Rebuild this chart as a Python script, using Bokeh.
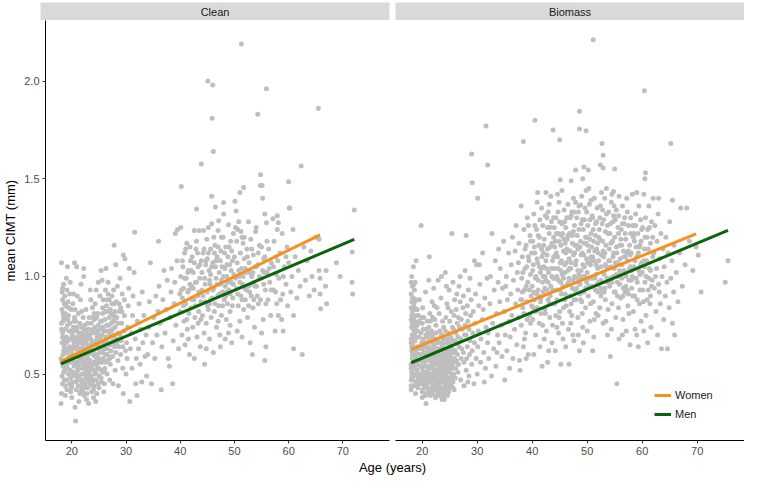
from bokeh.plotting import figure
from bokeh.models import Range1d, FixedTicker, PrintfTickFormatter
from bokeh.layouts import column, row
from bokeh.core.properties import value
from bokeh.embed import file_html
from bokeh.resources import INLINE

FONT = "Liberation Sans"
ORANGE = "#F5921F"
GREEN = "#0A640A"
POINT = "#BEBEBE"

panel_names = ["Clean", "Biomass"]
legend_labels = ["Women", "Men"]
x_ticks = [20, 30, 40, 50, 60, 70]
y_ticks = [0.5, 1.0, 1.5, 2.0]

# (age, mean CIMT)
clean_points = [
    (18.0,0.35),(18.1,1.07),(18.2,0.92),(18.3,0.88),(18.4,0.81),(18.1,0.76),(18.3,0.71),(18.2,0.66),(18.5,0.62),(18.0,0.58),
    (18.4,0.54),(18.2,0.49),(18.6,0.47),(18.8,0.44),(18.7,0.52),(18.9,0.57),(18.6,0.68),(18.8,0.73),(18.5,0.79),(18.9,0.85),
    (18.7,0.90),(18.5,0.96),(19.0,0.99),(19.2,1.05),(19.1,0.93),(19.3,0.87),(19.4,0.80),(19.2,0.75),(19.0,0.69),(19.3,0.63),
    (19.5,0.59),(19.1,0.55),(19.4,0.50),(19.6,0.45),(19.8,0.41),(19.7,0.48),(19.9,0.56),(19.6,0.64),(19.8,0.72),(19.9,0.83),
    (20.0,0.38),(20.1,0.46),(20.3,0.51),(20.2,0.57),(20.0,0.61),(20.4,0.66),(20.1,0.70),(20.3,0.74),(20.5,0.79),(20.2,0.86),
    (20.5,1.07),(20.7,0.26),(20.6,0.33),(20.8,0.42),(20.7,0.49),(20.9,0.54),(20.6,0.59),(20.8,0.63),(20.9,0.69),(20.7,0.77),
    (20.9,1.05),(21.0,0.90),(21.2,0.44),(21.1,0.52),(21.3,0.58),(21.0,0.64),(21.4,0.71),(21.2,0.81),(21.5,0.40),(21.6,0.47),
    (21.4,0.55),(21.7,0.61),(21.5,0.67),(21.8,0.74),(21.6,0.88),(21.9,0.50),(21.8,0.43),(21.9,0.57),(21.7,0.96),(21.3,0.36),
    (21.1,0.62),(21.9,0.66),
    (22.0,0.41),(22.1,0.47),(22.2,0.53),(22.0,0.58),(22.3,0.63),(22.1,0.69),(22.2,1.04),(22.2,1.00),(22.4,0.75),(22.3,0.39),
    (22.5,0.45),(22.6,0.51),(22.4,0.56),(22.7,0.60),(22.5,0.66),(22.8,0.72),(22.6,0.83),(22.9,0.43),(22.8,0.49),(23.0,0.54),
    (22.9,0.58),(23.1,0.62),(23.0,0.68),(23.2,0.79),(23.1,0.35),(23.3,0.47),(23.4,0.52),(23.2,0.57),(23.5,0.64),(23.3,0.70),
    (23.6,0.76),(23.5,0.88),(23.7,0.41),(23.8,0.46),(23.6,0.55),(23.9,0.60),(23.7,0.66),(23.9,0.73),(23.8,0.84),(23.4,0.93),
    (22.7,0.37),(23.0,0.50),(22.4,0.61),(23.6,0.48),(22.9,0.65),
    (24.0,0.38),(24.1,0.44),(24.2,0.50),(24.0,0.55),(24.3,0.59),(24.1,0.65),(24.4,0.71),(24.2,0.78),(24.3,0.86),(24.5,0.93),
    (24.6,0.40),(24.5,0.47),(24.7,0.53),(24.6,0.58),(24.8,0.63),(24.7,0.69),(24.9,0.75),(24.8,0.81),(25.0,0.43),(25.1,0.49),
    (25.0,0.56),(25.2,0.61),(25.1,0.67),(25.3,0.73),(25.2,0.90),(25.4,0.52),(25.5,0.46),(25.3,0.64),(25.6,0.70),(25.5,0.77),
    (25.7,0.84),(25.6,0.98),(25.8,0.58),(25.9,0.41),(25.7,0.62),(25.9,0.72),(25.8,0.88),(24.4,0.36),(25.4,1.03),(24.9,0.97),
    (26.0,0.45),(26.1,0.53),(26.2,0.60),(26.0,0.66),(26.3,0.72),(26.1,0.78),(26.4,0.85),(26.2,0.93),(26.3,1.04),(26.5,0.50),
    (26.6,0.57),(26.5,0.63),(26.7,0.69),(26.8,0.75),(26.6,0.82),(26.9,0.88),(26.7,0.97),(27.0,0.47),(27.1,0.55),(27.2,0.62),
    (27.0,0.70),(27.3,0.76),(27.1,0.83),(27.4,0.90),(27.5,0.59),(27.6,0.67),(27.5,0.73),(27.7,0.80),(27.8,1.16),(27.9,0.64),
    (27.8,0.86),(27.6,0.45),
    (28.0,0.52),(28.1,0.61),(28.2,0.68),(28.0,0.74),(28.3,0.79),(28.2,0.87),(28.4,0.95),(28.1,1.06),(28.5,0.57),(28.6,0.44),
    (28.7,0.64),(28.5,0.71),(28.8,0.82),(28.9,0.99),(29.0,0.60),(29.1,0.67),(29.2,0.76),(29.0,0.84),(29.3,0.91),(29.4,0.53),
    (29.5,0.40),(29.6,0.72),(29.7,0.80),(29.8,1.09),(29.9,0.62),(29.5,1.11),
    (30.0,0.50),(30.2,0.58),(30.1,0.66),(30.3,0.74),(30.4,0.85),(30.6,1.04),(30.5,0.94),(30.7,0.36),(30.8,0.63),(31.0,0.71),
    (31.1,0.53),(31.2,0.80),(31.3,0.90),(31.5,1.02),(31.6,1.226),(31.7,0.68),(31.8,0.45),(31.9,0.58),
    (32.0,0.39),(32.1,0.77),(32.3,0.63),(32.4,0.86),(32.6,0.55),(32.7,0.73),(32.9,0.46),(33.0,0.92),(33.1,0.66),(33.3,0.80),
    (33.5,0.59),(33.7,0.70),(33.8,0.49),
    (34.0,0.60),(34.2,0.74),(34.3,0.87),(34.5,1.07),(34.7,0.45),(34.9,0.66),(35.1,0.79),(35.3,0.58),(35.5,0.90),(35.7,0.70),
    (35.9,0.82),
    (36.0,1.18),(36.1,0.95),(36.3,0.76),(36.5,0.42),(36.6,0.64),(36.8,0.88),(37.0,1.03),(37.2,0.71),(37.4,0.83),(37.6,0.98),
    (37.8,0.58),
    (38.0,0.54),(38.1,0.79),(38.3,0.92),(38.4,1.04),(38.6,0.45),(38.7,0.67),(38.9,0.86),(39.0,0.97),(39.1,1.22),(39.2,0.75),
    (39.4,1.08),(39.5,1.24),(39.7,0.63),(39.9,0.91),
    (40.0,0.82),(40.1,1.00),(40.1,1.25),(40.2,1.46),(40.3,0.70),(40.4,0.89),(40.5,1.05),(40.6,0.94),(40.7,0.77),(40.8,1.12),
    (40.9,0.65),(41.0,0.86),(41.1,0.99),(41.2,1.17),(41.3,0.73),(41.4,0.92),(41.5,1.03),(41.6,0.81),(41.7,0.60),(41.8,0.96),
    (41.9,1.08),(41.5,0.68),
    (42.0,0.84),(42.1,0.95),(42.2,1.10),(42.3,0.74),(42.4,1.02),(42.5,0.88),(42.6,1.235),(42.7,0.79),(42.8,0.97),(42.9,1.14),
    (43.0,1.345),(43.1,0.69),(43.2,0.90),(43.3,1.05),(43.4,0.82),(43.5,1.235),(43.6,0.99),(43.7,0.64),(43.8,0.87),(43.9,1.575),
    (43.9,1.08),(43.3,0.76),(42.6,0.58),(43.0,1.18),
    (44.0,0.93),(44.1,0.80),(44.2,1.12),(44.3,1.235),(44.4,0.71),(44.5,0.99),(44.5,0.55),(44.6,0.87),(44.7,1.06),(44.8,0.76),
    (44.9,1.19),(45.0,0.92),(45.1,2.00),(45.2,1.25),(45.2,0.83),(45.3,1.03),(45.4,0.68),(45.5,0.96),(45.6,1.14),(45.7,0.79),
    (45.8,1.41),(45.8,1.27),(45.9,1.81),(45.9,0.89),(45.6,1.01),(45.0,1.09),(44.8,0.63),(45.4,0.86),
    (46.0,1.98),(46.0,1.07),(46.1,1.64),(46.1,0.61),(46.2,0.94),(46.3,0.82),(46.4,1.16),(46.5,1.355),(46.6,0.99),(46.7,0.74),
    (46.8,1.10),(46.9,0.90),(47.0,1.235),(47.1,1.285),(47.1,0.85),(47.2,1.02),(47.3,0.70),(47.4,0.96),(47.5,1.13),(47.6,0.80),
    (47.7,1.05),(47.8,0.92),(47.9,1.20),(47.4,0.64),(46.5,1.05),(47.0,0.77),(46.3,1.12),(47.6,0.98),
    (48.0,1.378),(48.0,1.32),(48.1,0.88),(48.2,1.04),(48.3,0.95),(48.4,1.15),(48.5,0.78),(48.6,1.00),(48.7,0.86),(48.8,1.10),
    (48.9,1.265),(48.9,0.71),(49.0,0.93),(49.1,1.06),(49.2,0.82),(49.3,1.18),(49.4,0.97),(49.5,0.66),(49.6,1.08),(49.7,0.89),
    (49.8,1.22),(49.9,1.01),(49.2,0.75),(48.6,0.92),(49.5,1.13),(48.3,0.68),
    (50.1,1.385),(50.2,1.25),(50.3,1.335),(50.4,0.94),(50.5,1.07),(50.6,1.24),(50.7,0.85),(50.8,1.28),(50.9,1.00),(51.0,1.43),
    (51.0,0.77),(51.1,1.12),(51.2,0.90),(51.3,2.19),(51.3,1.04),(51.4,0.69),(51.5,0.96),(51.6,1.17),(51.7,1.455),(51.7,0.83),
    (51.8,1.09),(51.9,0.94),(50.5,0.72),(51.4,1.20),
    (52.0,0.88),(52.2,1.02),(52.3,1.14),(52.4,0.79),(52.6,1.28),(52.6,0.95),(52.7,1.07),(52.9,0.66),(53.0,1.19),(53.1,0.90),
    (53.2,1.00),(53.4,0.84),(53.5,1.11),(53.6,0.97),(53.7,0.74),(53.8,1.05),(53.9,1.23),(53.3,0.60),(52.8,0.92),
    (54.0,1.25),(54.1,0.95),(54.3,1.83),(54.3,1.06),(54.4,0.86),(54.6,1.16),(54.8,1.52),(54.8,1.465),(54.9,0.99),(55.1,1.465),
    (55.2,1.40),(55.3,0.78),(55.4,1.09),(55.6,1.32),(55.6,0.57),(55.7,0.93),(55.8,0.64),(55.9,1.275),(55.9,1.96),(55.5,1.02),
    (55.0,0.71),
    (56.0,1.02),(56.2,0.88),(56.3,1.14),(56.5,0.97),(56.7,0.80),(56.8,1.07),(57.1,1.295),(57.2,0.93),(57.3,1.18),(57.5,0.72),
    (57.7,1.01),(57.9,1.31),(57.9,1.24),(57.8,0.86),(58.1,1.275),(57.6,1.10),
    (58.1,0.80),(58.2,0.99),(58.4,1.12),(58.7,0.78),(58.8,1.22),(58.9,0.91),(59.0,0.72),(59.2,1.05),(59.5,0.96),(59.7,1.15),
    (60.0,1.485),(60.1,1.35),(60.2,1.35),(59.8,0.85),(60.0,1.07),
    (60.4,0.92),(60.6,1.00),(60.8,1.24),(60.9,0.63),(60.9,0.80),(61.2,1.10),(61.5,0.89),(61.8,1.03),(62.1,0.95),(62.3,1.565),
    (62.5,0.60),(62.8,1.15),
    (63.1,0.98),(63.4,1.08),(63.8,0.90),(64.1,1.13),(64.3,1.00),(64.7,0.93),(65.0,1.20),(65.5,1.86),(65.6,1.19),(65.6,1.03),
    (65.8,0.99),(65.8,0.91),(65.9,0.835),(66.8,0.95),(66.9,1.03),(67.0,0.86),
    (69.5,1.00),(71.7,1.125),(71.7,0.97),(71.8,0.91),(72.1,1.34),(68.8,1.07),
    # dense young cluster
    (18.1,0.40),(18.3,0.45),(18.5,0.51),(18.2,0.56),(18.4,0.60),(18.6,0.64),(18.3,0.69),(18.1,0.73),(18.4,0.77),(18.2,0.83),
    (18.6,0.86),(18.3,0.94),(18.8,0.39),(18.7,0.61),(18.9,0.66),(18.8,0.81),(19.1,0.42),(19.0,0.47),(19.2,0.53),(19.4,0.57),
    (19.1,0.61),(19.3,0.67),(19.5,0.72),(19.2,0.78),(19.4,0.84),(19.6,0.91),(19.7,0.52),(19.9,0.62),(19.8,0.68),(19.6,0.76),
    (19.9,0.43),(19.7,0.97),
    (20.0,0.44),(20.2,0.49),(20.4,0.54),(20.1,0.59),(20.3,0.64),(20.5,0.68),(20.2,0.72),(20.4,0.77),(20.6,0.83),(20.3,0.91),
    (20.8,0.46),(20.9,0.51),(20.7,0.56),(20.8,0.67),(20.9,0.72),(21.0,0.47),(21.1,0.56),(21.3,0.61),(21.2,0.66),(21.0,0.74),
    (21.4,0.49),(21.5,0.53),(21.6,0.57),(21.4,0.63),(21.7,0.69),(21.5,0.76),(21.8,0.82),(21.6,0.41),(21.9,0.46),(21.8,0.59),
    (21.9,0.71),
    (22.0,0.45),(22.1,0.50),(22.3,0.55),(22.2,0.60),(22.0,0.64),(22.4,0.68),(22.3,0.73),(22.1,0.79),(22.5,0.43),(22.6,0.48),
    (22.7,0.53),(22.5,0.57),(22.8,0.62),(22.6,0.70),(22.9,0.76),(22.8,0.40),(23.0,0.47),(23.1,0.51),(23.2,0.55),(23.0,0.60),
    (23.3,0.64),(23.1,0.73),(23.4,0.45),(23.5,0.49),(23.6,0.53),(23.4,0.57),(23.7,0.61),(23.5,0.68),(23.8,0.44),(23.9,0.55),
    (23.7,0.71),(23.9,0.79),
    (24.0,0.42),(24.1,0.47),(24.3,0.52),(24.2,0.56),(24.0,0.62),(24.4,0.67),(24.3,0.74),(24.1,0.81),(24.5,0.50),(24.6,0.55),
    (24.7,0.60),(24.5,0.65),(24.8,0.72),(24.6,0.79),(24.9,0.45),(25.0,0.53),(25.1,0.58),(25.2,0.64),(25.0,0.70),(25.3,0.77),
    (25.4,0.48),(25.5,0.56),(25.6,0.61),(25.4,0.68),(25.7,0.74),(25.8,0.51),(25.9,0.65),(25.7,0.81),
    (26.0,0.52),(26.2,0.56),(26.1,0.63),(26.3,0.69),(26.4,0.75),(26.2,0.82),(26.5,0.88),(26.6,0.60),(26.7,0.66),(26.8,0.72),
    (26.9,0.79),(26.7,0.91),(27.0,0.58),(27.1,0.65),(27.2,0.72),(27.3,0.81),(27.4,0.86),(27.5,0.66),(27.6,0.77),(27.7,0.93),
    (27.8,0.70),(27.9,0.78),(28.0,0.82),(28.3,0.66),(28.5,0.76),(28.7,0.86),(28.9,0.70),(29.2,0.82),(29.4,0.64),(29.7,0.88),
    # dense middle-age cluster
    (40.2,0.93),(40.4,1.08),(40.6,0.85),(40.8,0.99),(41.0,1.14),(41.2,0.78),(41.4,1.02),(41.6,0.93),(41.8,1.15),(42.0,1.03),
    (42.2,0.88),(42.4,0.94),(42.6,1.07),(42.8,0.85),(43.0,0.97),(43.2,1.12),(43.4,0.92),(43.6,1.06),(43.8,0.78),(44.0,1.02),
    (44.2,0.90),(44.4,1.14),(44.6,0.96),(44.8,1.08),(45.0,0.85),(45.2,1.12),(45.4,0.98),(45.6,0.88),(45.8,1.05),(46.0,0.93),
    (46.2,1.20),(46.4,0.86),(46.6,1.08),(46.8,0.96),(47.0,1.15),(47.2,0.91),(47.4,1.08),(47.6,1.20),(47.8,0.85),(48.0,1.00),
    (48.2,1.12),(48.4,0.90),(48.6,1.06),(48.8,0.97),(49.0,1.15),(49.2,0.91),(49.4,1.03),(49.6,0.85),(49.8,0.96),(50.0,1.10),
    (50.2,0.99),(50.4,1.18),(50.6,0.91),(50.8,1.03),(51.0,0.97),(51.2,1.23),(51.4,0.88),(51.6,1.00),(51.8,1.20),(52.0,1.04),
    (52.2,0.93),(52.4,1.10),(52.6,0.85),(52.8,1.02),(53.0,0.96),(53.2,1.14),(53.4,1.02),(53.6,0.88),(53.8,0.95),(54.0,1.05),
    (54.2,0.90),(54.4,1.12),(54.6,1.00),(54.8,0.88),(55.0,1.15),(55.2,1.03),(55.4,0.96),(55.6,1.10),(55.8,0.86),(56.0,1.18),
    (56.4,1.04),(56.8,0.93),(57.2,1.05),(57.6,0.92),(58.0,1.08),(58.5,0.88),(59.0,1.00),(59.5,1.10),
]

# (age, mean CIMT)
biomass_points = [
    (18.0,0.42),(18.0,0.47),(18.1,0.51),(18.0,0.55),(18.2,0.58),(18.1,0.62),(18.0,0.66),(18.2,0.70),(18.1,0.74),(18.0,0.78),
    (18.2,0.82),(18.1,0.87),(18.0,0.91),(18.2,0.95),(18.1,1.00),(18.4,0.44),(18.5,0.49),(18.3,0.53),(18.4,0.57),(18.6,0.61),
    (18.3,0.65),(18.5,0.69),(18.4,0.73),(18.6,0.77),(18.3,0.80),(18.5,0.85),(18.4,0.89),(18.6,0.93),(18.4,1.05),(18.8,0.40),
    (18.9,0.46),(18.7,0.50),(18.9,0.55),(18.8,0.59),(19.0,0.63),(18.7,0.67),(18.9,0.72),(18.8,0.76),(19.0,0.83),(18.9,1.08),
    (18.7,0.97),(19.2,0.43),(19.3,0.48),(19.1,0.52),(19.3,0.57),(19.2,0.64),(19.4,0.69),(19.1,0.75),(19.3,0.80),(19.5,0.88),
    (19.6,0.45),(19.7,0.54),(19.6,0.60),(19.8,0.71),(19.9,0.79),(19.8,1.26),
    (20.0,0.38),(20.1,0.42),(20.0,0.47),(20.2,0.51),(20.1,0.56),(20.3,0.61),(20.0,0.66),(20.2,0.73),(20.1,0.84),(20.5,0.40),
    (20.6,0.45),(20.4,0.49),(20.7,0.35),(20.6,0.54),(20.5,0.59),(20.8,0.64),(20.7,0.70),(20.9,0.77),(20.6,0.92),(21.0,0.43),
    (21.1,0.48),(21.0,0.52),(21.2,0.57),(21.1,0.62),(21.3,0.67),(21.2,0.74),(21.4,0.81),(21.3,1.10),(21.5,0.39),(21.6,0.46),
    (21.5,0.50),(21.7,0.55),(21.6,0.60),(21.8,0.66),(21.7,0.72),(21.9,0.79),(21.8,0.87),(21.9,0.44),(21.8,0.53),(21.4,0.58),
    (20.9,0.69),(21.7,0.63),(20.3,0.79),(21.2,0.98),(21.9,0.48),(20.8,0.50),(21.5,0.70),(20.4,0.64),(21.1,0.41),
    (22.0,0.40),(22.1,0.44),(22.0,0.48),(22.2,0.52),(22.1,0.56),(22.3,0.60),(22.2,0.65),(22.0,0.71),(22.3,0.78),(22.1,0.94),
    (22.4,0.38),(22.5,0.42),(22.6,0.46),(22.4,0.50),(22.5,0.55),(22.7,0.59),(22.6,0.63),(22.8,0.68),(22.5,0.75),(22.7,0.84),
    (22.9,0.41),(23.0,0.45),(22.8,0.49),(23.0,0.53),(22.9,0.57),(23.1,0.61),(23.0,0.66),(23.2,0.72),(23.1,0.81),(23.3,0.39),
    (23.4,0.43),(23.2,0.47),(23.5,0.51),(23.3,0.55),(23.4,0.59),(23.6,0.64),(23.5,0.70),(23.7,0.77),(23.6,0.37),(23.8,0.42),
    (23.7,0.46),(23.9,0.50),(23.8,0.54),(23.6,0.58),(23.9,0.62),(23.8,0.68),(23.9,0.74),(23.4,0.89),(22.9,0.98),(22.2,0.85),
    (23.5,1.00),(22.6,0.52),(23.2,0.43),(23.7,0.52),(24.0,0.37),
    (24.0,0.41),(24.1,0.45),(24.2,0.49),(24.0,0.53),(24.3,0.57),(24.1,0.61),(24.4,0.66),(24.2,0.72),(24.3,0.79),(24.5,0.86),
    (24.6,0.39),(24.5,0.44),(24.7,0.48),(24.6,0.52),(24.8,0.56),(24.7,0.60),(24.9,0.65),(24.8,0.71),(25.0,0.77),(24.9,0.93),
    (25.1,0.43),(25.2,0.47),(25.0,0.51),(25.3,0.55),(25.1,0.59),(25.4,0.63),(25.2,0.69),(25.5,0.74),(25.3,0.82),(25.4,1.22),
    (25.6,0.46),(25.7,0.50),(25.5,0.54),(25.8,0.58),(25.6,0.62),(25.9,0.67),(25.7,0.73),(25.8,0.80),(25.9,0.88),(25.6,0.97),
    (24.4,0.95),(25.0,0.45),(24.2,1.02),(25.8,0.42),(24.7,0.84),
    (26.0,0.48),(26.1,0.53),(26.2,0.57),(26.0,0.62),(26.3,0.66),(26.1,0.71),(26.4,0.76),(26.2,0.83),(26.3,0.91),(26.5,0.51),
    (26.6,0.55),(26.4,0.60),(26.7,0.64),(26.5,0.69),(26.8,0.74),(26.6,0.79),(26.9,0.87),(26.7,0.95),(27.0,0.47),(27.1,0.58),
    (27.2,0.63),(27.0,0.68),(27.3,0.73),(27.1,0.78),(27.4,0.84),(27.5,0.90),(27.6,0.56),(27.5,0.61),(27.7,0.70),(27.8,0.75),
    (27.9,0.81),(27.8,1.03),(28.0,1.21),(27.6,0.44),(26.9,1.00),
    (28.0,0.52),(28.1,0.58),(28.2,0.64),(28.0,0.70),(28.3,0.77),(28.2,0.85),(28.4,0.93),(28.5,0.49),(28.6,0.60),(28.7,0.67),
    (28.5,0.73),(28.8,0.80),(28.9,0.88),(28.7,0.99),(29.0,0.55),(29.1,0.62),(29.2,0.71),(29.0,1.626),(29.1,1.48),(29.3,0.82),
    (29.4,0.45),(29.5,0.66),(29.6,0.76),(29.7,0.91),(29.8,0.58),(29.9,1.06),(29.5,1.08),(28.3,0.46),
    (30.0,0.50),(30.1,0.64),(30.1,1.40),(30.2,0.72),(30.3,0.85),(30.5,0.96),(30.6,0.56),(30.7,0.68),(30.9,0.78),(31.0,1.12),
    (31.2,0.61),(31.3,0.46),(31.4,0.89),(31.6,1.77),(31.6,0.74),(31.8,0.99),(31.9,1.57),(31.9,0.66),(31.5,0.53),(30.4,1.06),
    (31.1,0.83),
    (32.0,0.71),(32.1,0.58),(32.3,0.86),(32.4,1.00),(32.6,0.49),(32.7,1.22),(32.8,0.76),(33.0,0.63),(33.1,0.93),(33.3,1.08),
    (33.4,0.54),(33.5,0.81),(33.7,0.70),(33.8,0.97),(33.9,1.14),(33.6,0.61),
    (34.0,0.66),(34.1,0.87),(34.2,1.04),(34.4,0.75),(34.5,0.59),(34.6,0.94),(34.8,1.18),(34.9,0.82),(35.0,0.47),(35.1,0.70),
    (35.3,1.00),(35.4,0.62),(35.5,0.88),(35.7,1.12),(35.8,0.77),(35.9,0.53),(35.2,0.95),
    (36.0,0.69),(36.1,0.91),(36.2,1.06),(36.3,0.80),(36.4,1.20),(36.5,0.58),(36.6,0.98),(36.8,0.73),(36.9,1.13),(37.0,0.86),
    (37.1,1.26),(37.2,0.65),(37.3,1.02),(37.4,0.93),(37.5,0.79),(37.6,1.17),(37.7,0.57),(37.8,0.52),(37.9,0.88),(37.5,1.07),
    (38.0,1.36),(38.0,0.75),(38.1,0.99),(38.2,1.10),(38.3,0.84),(38.4,1.69),(38.4,0.64),(38.5,1.24),(38.6,0.93),(38.7,1.04),
    (38.8,0.71),(38.9,1.16),(39.0,0.87),(39.1,1.30),(39.2,0.97),(39.3,0.60),(39.4,1.08),(39.5,0.80),(39.6,1.21),(39.7,1.01),
    (39.8,0.90),(39.9,1.12),(39.3,1.26),(38.6,0.68),(39.0,1.05),(38.2,0.92),(39.7,0.76),(38.9,0.58),
    (40.0,0.95),(40.1,1.18),(40.1,0.78),(40.2,1.06),(40.3,1.32),(40.4,0.88),(40.5,1.80),(40.5,1.12),(40.6,0.70),(40.7,1.00),
    (40.8,1.24),(40.9,0.84),(41.0,1.43),(41.0,1.07),(41.1,0.93),(41.2,1.16),(41.3,0.76),(41.4,1.29),(41.5,1.02),(41.6,0.89),
    (41.7,1.35),(41.8,1.10),(41.8,0.54),(41.9,0.97),(41.4,0.64),(40.9,1.38),(40.3,0.60),(41.1,1.21),(41.6,0.81),(40.6,0.99),
    (41.9,1.26),(40.8,0.91),(41.3,1.05),(40.2,0.84),(41.7,1.14),
    (42.0,0.92),(42.1,1.05),(42.2,1.19),(42.3,0.83),(42.4,1.31),(42.5,1.43),(42.5,0.98),(42.6,0.72),(42.7,1.11),(42.8,0.56),
    (42.8,1.25),(42.9,0.88),(43.0,1.02),(43.1,1.37),(43.2,0.79),(43.3,1.15),(43.4,0.95),(43.5,1.28),(43.6,0.66),(43.7,1.08),
    (43.8,1.75),(43.8,0.86),(43.9,1.20),(43.9,0.99),(42.2,0.68),(42.9,1.33),(43.3,0.90),(42.6,1.04),(43.6,1.17),(42.4,0.81),
    (43.1,1.22),(43.7,0.75),(42.0,1.12),(43.0,0.62),(42.7,0.93),(43.4,1.41),(42.3,1.00),(43.9,1.10),
    (44.0,1.04),(44.1,0.86),(44.2,1.18),(44.3,1.30),(44.4,0.93),(44.5,0.74),(44.6,1.10),(44.7,1.22),(44.8,0.98),(44.9,1.38),
    (45.0,1.70),(45.0,0.82),(45.1,1.495),(45.1,1.07),(45.2,0.55),(45.2,1.16),(45.3,0.91),(45.4,1.27),(45.5,1.01),(45.6,0.68),
    (45.7,1.13),(45.8,1.34),(45.9,0.88),(45.9,1.06),(44.2,0.62),(44.6,1.42),(44.9,0.79),(45.3,1.21),(45.6,0.95),(44.4,1.12),
    (45.0,1.28),(44.8,0.71),(45.7,0.84),(44.0,1.25),(45.4,1.44),(44.5,1.00),(45.8,1.19),(44.3,0.80),(45.2,0.97),(44.7,1.33),
    (45.5,0.76),(44.1,1.15),
    (46.0,1.02),(46.1,1.25),(46.2,0.85),(46.3,1.14),(46.4,0.96),(46.5,1.37),(46.6,0.73),(46.7,0.55),(46.7,1.09),(46.8,1.22),
    (46.9,0.90),(47.0,1.04),(47.1,1.49),(47.1,1.31),(47.2,0.80),(47.3,1.17),(47.4,0.98),(47.5,1.40),(47.5,1.11),(47.6,0.67),
    (47.7,1.26),(47.8,0.93),(47.9,1.545),(47.9,1.38),(47.9,1.06),(46.1,0.64),(46.4,1.19),(46.8,0.82),(47.2,1.33),(47.6,0.88),
    (46.0,0.91),(46.5,1.03),(47.0,0.76),(47.3,1.21),(47.8,1.16),(46.3,1.30),(46.9,1.13),(47.4,0.70),(46.2,1.07),(46.6,0.97),
    (47.7,1.00),(47.1,0.86),
    (48.0,1.08),(48.1,0.94),(48.2,1.21),(48.3,0.79),(48.4,1.33),(48.5,1.01),(48.6,1.845),(48.6,1.755),(48.6,0.62),(48.7,1.15),
    (48.8,1.365),(48.8,0.88),(48.9,1.27),(49.0,1.41),(49.0,0.99),(49.1,1.12),(49.2,1.50),(49.2,0.74),(49.3,1.24),(49.4,1.56),
    (49.4,0.92),(49.5,1.05),(49.6,1.35),(49.7,0.84),(49.8,1.745),(49.8,1.44),(49.8,1.17),(49.9,0.97),(48.1,1.30),(48.4,0.70),
    (48.7,0.96),(49.1,0.81),(49.5,1.29),(49.9,1.09),(48.3,1.14),(48.9,1.03),(49.3,0.66),(49.7,1.20),(48.5,1.24),(49.0,0.87),
    (48.2,0.99),(49.6,1.00),(48.8,1.18),(49.4,1.11),
    (50.0,1.02),(50.1,1.26),(50.2,1.545),(50.2,0.90),(50.3,1.13),(50.4,1.37),(50.5,0.77),(50.6,1.06),(50.7,1.22),(50.8,0.95),
    (50.9,1.31),(51.0,0.62),(51.0,1.10),(51.1,2.212),(51.1,0.87),(51.2,1.18),(51.3,1.40),(51.4,0.99),(51.5,1.27),(51.6,0.81),
    (51.7,1.14),(51.8,1.35),(51.9,1.04),(51.9,0.92),(50.0,0.72),(50.3,1.45),(50.6,0.86),(50.9,1.09),(51.2,0.69),(51.5,1.21),
    (51.8,0.96),(50.1,1.16),(50.4,0.99),(50.7,1.39),(51.0,1.30),(51.3,0.78),(51.6,1.06),(50.5,1.19),(50.8,1.08),(51.4,1.13),
    (52.0,1.12),(52.1,0.97),(52.2,1.24),(52.3,0.84),(52.4,1.36),(52.4,1.57),(52.5,1.05),(52.6,1.43),(52.7,1.68),(52.7,0.92),
    (52.8,1.18),(52.9,1.62),(52.9,1.555),(52.9,0.76),(53.0,1.29),(53.1,1.01),(53.2,1.40),(53.3,0.88),(53.4,1.16),(53.5,1.32),
    (53.6,0.99),(53.7,0.70),(53.8,1.22),(53.9,1.08),(52.0,0.80),(52.3,1.30),(52.6,1.11),(52.9,1.02),(53.2,0.94),(53.5,1.45),
    (53.8,0.83),(52.1,1.20),(52.5,0.90),(53.0,1.10),(53.4,0.77),(53.7,1.26),(53.3,1.06),(52.8,1.34),
    (54.0,1.14),(54.1,0.95),(54.2,1.27),(54.2,0.59),(54.3,1.05),(54.4,1.38),(54.5,1.42),(54.5,0.86),(54.6,1.18),(54.7,1.00),
    (54.8,1.435),(54.8,1.31),(54.9,0.92),(55.0,1.55),(55.0,1.20),(55.1,1.07),(55.2,0.79),(55.3,1.34),(55.4,0.45),(55.4,1.12),
    (55.5,0.97),(55.6,1.25),(55.7,0.84),(55.8,1.41),(55.9,1.03),(55.9,1.16),(54.1,1.22),(54.4,0.73),(54.7,1.10),(55.1,1.29),
    (55.5,0.90),(55.8,0.68),(54.3,0.99),(54.9,1.36),(55.3,1.01),(55.7,1.22),
    (56.0,1.09),(56.1,0.89),(56.2,1.24),(56.3,0.99),(56.4,1.36),(56.5,0.78),(56.6,1.13),(56.7,1.03),(56.8,1.30),(56.9,0.92),
    (57.0,1.19),(57.1,0.72),(57.2,1.40),(57.3,1.08),(57.4,0.85),(57.5,1.26),(57.6,0.98),(57.7,1.16),(57.8,0.65),(57.9,1.05),
    (56.1,1.19),(56.4,0.70),(56.7,1.27),(57.0,0.95),(57.3,1.33),(57.6,0.81),(57.9,1.22),(56.3,1.06),(56.9,1.10),(57.5,0.91),
    (56.6,0.94),(57.8,1.11),
    (58.0,1.12),(58.1,0.94),(58.2,1.42),(58.3,1.26),(58.4,0.82),(58.5,1.05),(58.6,1.18),(58.7,0.73),(58.8,1.32),(58.9,0.99),
    (59.0,1.43),(59.0,1.10),(59.1,0.88),(59.2,1.22),(59.3,0.64),(59.4,1.03),(59.5,1.15),(59.6,0.93),(59.7,1.29),(59.8,0.77),
    (59.9,1.07),(58.2,1.00),(58.6,0.90),(59.0,0.70),(59.4,1.36),(59.8,1.18),(58.4,1.20),(59.6,1.01),
    (60.0,1.02),(60.1,1.25),(60.2,0.87),(60.3,1.42),(60.4,1.95),(60.4,1.14),(60.5,1.50),(60.5,0.97),(60.6,1.53),(60.6,1.30),
    (60.7,0.80),(60.8,1.08),(60.9,1.20),(61.0,0.66),(61.1,0.93),(61.2,1.36),(61.3,1.04),(61.4,0.86),(61.5,1.17),(61.6,0.74),
    (61.7,1.28),(61.8,0.98),(61.9,1.10),(60.3,0.72),(61.0,1.24),(61.5,0.90),
    (62.0,1.40),(62.1,1.12),(62.2,0.94),(62.3,1.26),(62.5,0.82),(62.6,1.04),(62.7,1.18),(62.8,0.70),(62.9,1.32),(63.0,1.40),
    (63.0,0.96),(63.2,1.09),(63.3,0.86),(63.4,1.22),(63.5,0.63),(63.6,1.00),(63.8,1.14),(63.9,0.78),(62.4,1.00),(63.1,0.92),
    (64.0,1.05),(64.2,0.90),(64.3,1.20),(64.5,0.97),(64.6,0.63),(64.7,1.12),(64.9,0.84),(65.0,1.28),(65.2,1.68),(65.2,0.99),
    (65.4,1.08),(65.5,1.39),(65.5,0.76),(65.7,0.92),(65.8,1.16),(65.9,0.70),
    (66.2,1.02),(66.5,0.87),(66.8,1.12),(67.0,1.35),(67.3,0.95),(67.8,1.06),(68.1,1.35),(68.6,1.18),(69.2,1.03),(69.8,1.15),
    (70.2,1.11),(70.7,0.92),(75.1,0.97),(75.6,1.08),
    # dense young cluster
    (18.0,0.44),(18.1,0.49),(18.0,0.53),(18.2,0.60),(18.1,0.64),(18.0,0.68),(18.2,0.76),(18.1,0.80),(18.0,0.84),(18.2,0.89),
    (18.0,0.97),(18.3,0.47),(18.5,0.55),(18.4,0.63),(18.6,0.71),(18.3,0.75),(18.5,0.79),(18.4,0.83),(18.6,0.87),(18.5,0.96),
    (18.8,0.44),(18.7,0.53),(18.9,0.61),(18.8,0.69),(18.7,0.74),(18.9,0.80),(19.0,0.88),(19.2,0.46),(19.1,0.55),(19.3,0.60),
    (19.2,0.72),(19.4,0.77),(19.1,0.83),(19.5,0.50),(19.6,0.57),(19.7,0.63),(19.8,0.49),(19.9,0.66),
    (20.0,0.41),(20.1,0.45),(20.2,0.48),(20.0,0.53),(20.3,0.57),(20.1,0.63),(20.2,0.68),(20.0,0.76),(20.4,0.43),(20.5,0.47),
    (20.6,0.51),(20.4,0.56),(20.7,0.61),(20.5,0.66),(20.8,0.73),(20.6,0.39),(20.9,0.45),(21.0,0.49),(21.1,0.54),(20.9,0.59),
    (21.2,0.64),(21.0,0.71),(21.3,0.42),(21.4,0.46),(21.3,0.53),(21.5,0.57),(21.4,0.62),(21.6,0.67),(21.5,0.77),(21.7,0.41),
    (21.8,0.50),(21.9,0.55),(21.7,0.59),(21.8,0.63),(21.9,0.69),
    (22.0,0.43),(22.1,0.47),(22.2,0.50),(22.0,0.54),(22.3,0.58),(22.1,0.62),(22.2,0.68),(22.4,0.44),(22.5,0.48),(22.3,0.52),
    (22.6,0.56),(22.4,0.61),(22.7,0.66),(22.5,0.71),(22.8,0.39),(22.9,0.44),(22.7,0.48),(23.0,0.50),(22.8,0.55),(23.1,0.59),
    (22.9,0.63),(23.2,0.40),(23.1,0.45),(23.3,0.49),(23.2,0.53),(23.4,0.57),(23.3,0.61),(23.5,0.66),(23.5,0.42),(23.6,0.47),
    (23.7,0.50),(23.6,0.55),(23.8,0.60),(23.7,0.65),(23.9,0.40),(23.8,0.46),(23.9,0.57),
    (24.0,0.39),(24.1,0.43),(24.0,0.47),(24.2,0.51),(24.1,0.55),(24.3,0.59),(24.2,0.63),(24.4,0.42),(24.5,0.46),(24.3,0.50),
    (24.6,0.54),(24.4,0.58),(24.7,0.62),(24.6,0.68),(24.8,0.41),(24.9,0.47),(24.8,0.52),(25.0,0.57),(24.9,0.61),(25.1,0.66),
    (25.2,0.44),(25.3,0.49),(25.2,0.53),(25.4,0.57),(25.3,0.61),(25.5,0.67),(25.6,0.43),(25.7,0.53),(25.8,0.61),(25.9,0.56),
    # dense middle-age cluster
    (38.1,0.88),(38.3,1.02),(38.5,0.81),(38.7,1.14),(38.9,0.95),(39.1,0.78),(39.3,1.10),(39.5,0.93),(39.7,1.18),(39.9,0.85),
    (40.1,1.03),(40.3,0.92),(40.5,1.26),(40.7,0.82),(40.9,1.09),(41.1,0.98),(41.3,1.20),(41.5,0.87),(41.7,1.04),(41.9,0.75),
    (42.1,1.16),(42.3,0.94),(42.5,1.08),(42.7,1.30),(42.9,0.97),(43.1,0.86),(43.3,1.25),(43.5,1.04),(43.7,0.93),(43.9,1.30),
    (44.1,0.99),(44.3,1.11),(44.5,0.88),(44.7,1.04),(44.9,1.18),(45.1,0.93),(45.3,1.08),(45.5,1.22),(45.7,0.99),(45.9,1.28),
    (46.1,1.12),(46.3,0.90),(46.5,1.21),(46.7,0.99),(46.9,1.30),(47.1,1.07),(47.3,0.94),(47.5,1.23),(47.7,1.12),(47.9,0.88),
    (48.1,1.16),(48.3,1.03),(48.5,1.36),(48.7,0.91),(48.9,1.11),(49.1,1.29),(49.3,1.00),(49.5,1.17),(49.7,0.94),(49.9,1.33),
    (50.1,1.07),(50.3,0.95),(50.5,1.29),(50.7,1.10),(50.9,0.99),(51.1,1.24),(51.3,1.08),(51.5,0.93),(51.7,1.28),(51.9,1.17),
    (52.1,1.08),(52.3,1.19),(52.5,0.98),(52.7,1.27),(52.9,1.13),(53.1,0.92),(53.3,1.23),(53.5,1.05),(53.7,0.97),(53.9,1.33),
    (54.1,1.08),(54.3,1.17),(54.5,0.97),(54.7,1.28),(54.9,1.04),(55.1,0.92),(55.3,1.15),(55.5,1.07),(55.7,1.31),(55.9,0.96),
    (56.1,1.01),(56.3,1.16),(56.5,0.90),(56.7,1.10),(56.9,1.22),(57.1,1.00),(57.3,0.93),(57.5,1.13),(57.7,1.04),(57.9,1.30),
    (58.1,1.03),(58.3,0.90),(58.5,1.22),(58.7,1.08),(58.9,1.15),(59.1,0.97),(59.3,1.12),(59.5,0.86),(59.7,1.06),(59.9,1.24),
    (60.1,0.93),(60.3,1.08),(60.5,1.20),(60.7,1.00),(60.9,0.88),(61.1,1.14),(61.3,1.25),(61.5,1.03),(61.7,0.95),(61.9,1.20),
    (40.4,1.15),(41.2,0.90),(42.0,1.00),(42.8,1.14),(43.6,1.00),(44.4,1.22),(45.2,1.03),(46.0,1.17),(46.8,1.04),(47.6,1.33),
    (48.4,0.97),(49.2,1.06),(50.0,1.20),(50.8,1.15),(51.6,1.01),(52.4,0.94),(53.2,1.12),(54.0,1.22),(54.8,1.12),(55.6,1.00),
    (56.4,1.27),(57.2,1.12),(58.0,0.98),(58.8,1.26),(59.6,1.16),(60.4,1.05),(61.2,0.99),
]

clean_age = [a for a, _ in clean_points]
clean_cimt = [c for _, c in clean_points]
biomass_age = [a for a, _ in biomass_points]
biomass_cimt = [c for _, c in biomass_points]

# fitted lines (endpoints of the linear fits)
clean_women_age = [18.0, 65.8]
clean_women_fit = [0.565, 1.213]
clean_men_age = [18.0, 72.1]
clean_men_fit = [0.552, 1.190]
biomass_women_age = [18.0, 69.8]
biomass_women_fit = [0.626, 1.218]
biomass_men_age = [18.0, 75.6]
biomass_men_fit = [0.558, 1.236]

XR = Range1d(15.15, 78.6)
YR = Range1d(0.16, 2.31)

LEFT = 40
GAP = 3
FRAME_W = 349
PANEL_H = 439
BOTTOM = 19
STRIP_H = 20
XLAB_H = 16


def style_axis(ax):
    ax.axis_line_color = "black"
    ax.axis_line_width = 1
    ax.major_tick_line_color = "#333333"
    ax.major_tick_out = 3
    ax.major_tick_in = 0
    ax.minor_tick_line_color = None
    ax.major_label_text_font = FONT
    ax.major_label_text_font_size = "11px"
    ax.major_label_text_color = "#4D4D4D"
    ax.major_label_standoff = 3


def make_panel(age, cimt, women_age, women_fit, men_age, men_fit, first):
    p = figure(
        width=(LEFT + FRAME_W + GAP) if first else (GAP + FRAME_W),
        height=PANEL_H,
        x_range=XR, y_range=YR,
        min_border_left=LEFT if first else GAP,
        min_border_right=GAP if first else 0,
        min_border_top=0, min_border_bottom=BOTTOM,
        toolbar_location=None, output_backend="svg",
        y_axis_location="left" if first else None,
    )
    p.grid.visible = False
    p.outline_line_color = None
    p.background_fill_color = "white"
    p.border_fill_color = "white"
    p.xaxis.ticker = FixedTicker(ticks=x_ticks)
    p.xaxis.formatter = PrintfTickFormatter(format="%d")
    style_axis(p.xaxis[0])
    if first:
        p.yaxis.ticker = FixedTicker(ticks=y_ticks)
        p.yaxis.formatter = PrintfTickFormatter(format="%.1f")
        style_axis(p.yaxis[0])
        p.yaxis.axis_label = "mean CIMT (mm)"
        p.yaxis.axis_label_text_font = FONT
        p.yaxis.axis_label_text_font_size = "13px"
        p.yaxis.axis_label_text_font_style = "normal"
        p.yaxis.axis_label_text_color = "black"
        p.yaxis.axis_label_standoff = 3
    p.scatter(age, cimt, size=5, fill_color=POINT, line_color=None)
    if first:
        p.line(women_age, women_fit, line_color=ORANGE, line_width=3)
        p.line(men_age, men_fit, line_color=GREEN, line_width=3)
    else:
        p.line(women_age, women_fit, line_color=ORANGE, line_width=3, legend_label=legend_labels[0])
        p.line(men_age, men_fit, line_color=GREEN, line_width=3, legend_label=legend_labels[1])
        lg = p.legend[0]
        lg.location = (255, 14)
        lg.background_fill_alpha = 0
        lg.border_line_alpha = 0
        lg.label_text_font = FONT
        lg.label_text_font_size = "11px"
        lg.label_text_color = "#1A1A1A"
        lg.glyph_width = 17
        lg.glyph_height = 16
        lg.label_height = 16
        lg.label_standoff = 4
        lg.spacing = 3
        lg.padding = 4
        lg.margin = 0
    return p


def make_strip(label, first):
    s = figure(
        width=(LEFT + FRAME_W + GAP) if first else (GAP + FRAME_W),
        height=STRIP_H,
        x_range=Range1d(0, 1), y_range=Range1d(0, 1),
        min_border_left=LEFT if first else GAP,
        min_border_right=GAP if first else 0,
        min_border_top=2, min_border_bottom=0,
        x_axis_location=None, y_axis_location=None,
        toolbar_location=None, output_backend="svg",
    )
    s.grid.visible = False
    s.outline_line_color = None
    s.background_fill_color = "#D9D9D9"
    s.border_fill_color = "white"
    s.text(x=[0.5], y=[0.5], text=[label], text_align="center", text_baseline="middle",
           text_font=value(FONT), text_font_size="11px", text_color="#1A1A1A")
    return s


p1 = make_panel(clean_age, clean_cimt, clean_women_age, clean_women_fit,
                clean_men_age, clean_men_fit, True)
p2 = make_panel(biomass_age, biomass_cimt, biomass_women_age, biomass_women_fit,
                biomass_men_age, biomass_men_fit, False)
s1 = make_strip(panel_names[0], True)
s2 = make_strip(panel_names[1], False)

xl = figure(
    width=LEFT + FRAME_W + GAP + GAP + FRAME_W, height=XLAB_H,
    x_range=Range1d(0, 1), y_range=Range1d(0, 1),
    min_border_left=LEFT, min_border_right=0, min_border_top=0, min_border_bottom=0,
    x_axis_location=None, y_axis_location=None,
    toolbar_location=None, output_backend="svg",
)
xl.grid.visible = False
xl.outline_line_color = None
xl.text(x=[0.5], y=[0.5], text=["Age (years)"], text_align="center", text_baseline="middle",
        text_font=value(FONT), text_font_size="13px", text_color="black")

layout = column(row(s1, s2), row(p1, p2), xl)

open("out.html", "w").write(file_html(layout, INLINE))
